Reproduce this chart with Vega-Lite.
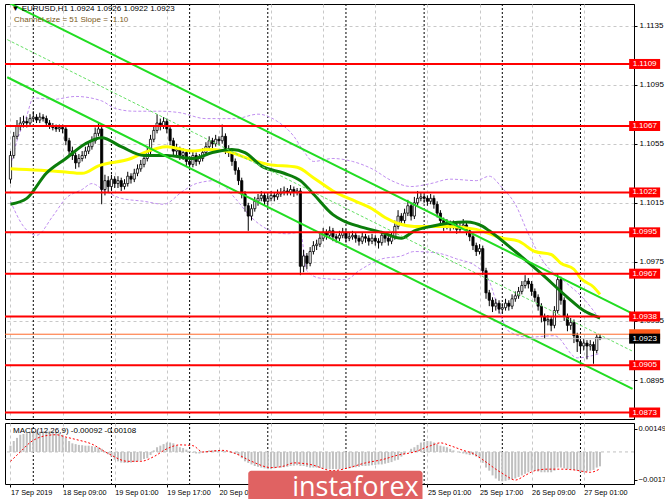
{
"$schema": "https://vega.github.io/schema/vega-lite/v6.json",
"padding": {"left": 3, "top": 3, "right": 0, "bottom": 0},
"background": "#ffffff",
"spacing": 2,
"config": {
  "view": {"stroke": "#000000", "strokeWidth": 1},
  "axis": {"labelFont": "Liberation Sans", "labelFontSize": 8, "labelColor": "#000000", "tickColor": "#000000", "domainColor": "#000000", "zindex": 0, "title": null},
  "text": {"font": "Liberation Sans"}
},
"datasets": {
"bars": [
{"i":0,"o":1.1031,"h":1.1050,"l":1.1028,"c":1.1047,"m":0.0004},
{"i":1,"o":1.1047,"h":1.1063,"l":1.1045,"c":1.1060,"m":0.0007},
{"i":2,"o":1.1060,"h":1.1071,"l":1.1058,"c":1.1067,"m":0.0009},
{"i":3,"o":1.1067,"h":1.1073,"l":1.1064,"c":1.1069,"m":0.0011},
{"i":4,"o":1.1069,"h":1.1074,"l":1.1066,"c":1.1070,"m":0.00115},
{"i":5,"o":1.1070,"h":1.1073,"l":1.1066,"c":1.1069,"m":0.0012},
{"i":6,"o":1.1069,"h":1.1075,"l":1.1067,"c":1.1072,"m":0.00125},
{"i":7,"o":1.1072,"h":1.1077,"l":1.1070,"c":1.1073,"m":0.0013},
{"i":8,"o":1.1073,"h":1.1075,"l":1.1069,"c":1.1071,"m":0.0013},
{"i":9,"o":1.1071,"h":1.1076,"l":1.1069,"c":1.1073,"m":0.0013},
{"i":10,"o":1.1073,"h":1.1075,"l":1.1070,"c":1.1072,"m":0.00132},
{"i":11,"o":1.1072,"h":1.1074,"l":1.1067,"c":1.1069,"m":0.00135},
{"i":12,"o":1.1069,"h":1.1071,"l":1.1065,"c":1.1067,"m":0.00135},
{"i":13,"o":1.1067,"h":1.1069,"l":1.1064,"c":1.1066,"m":0.00133},
{"i":14,"o":1.1066,"h":1.1068,"l":1.1063,"c":1.1065,"m":0.0013},
{"i":15,"o":1.1065,"h":1.1068,"l":1.1063,"c":1.1066,"m":0.0012},
{"i":16,"o":1.1066,"h":1.1068,"l":1.1062,"c":1.1065,"m":0.0011},
{"i":17,"o":1.1065,"h":1.1067,"l":1.1054,"c":1.1057,"m":0.0009},
{"i":18,"o":1.1057,"h":1.1059,"l":1.1047,"c":1.1050,"m":0.0007},
{"i":19,"o":1.1050,"h":1.1053,"l":1.1044,"c":1.1047,"m":0.00055},
{"i":20,"o":1.1047,"h":1.1049,"l":1.1038,"c":1.1042,"m":0.0005},
{"i":21,"o":1.1042,"h":1.1048,"l":1.1039,"c":1.1045,"m":0.00045},
{"i":22,"o":1.1045,"h":1.1050,"l":1.1043,"c":1.1047,"m":0.00043},
{"i":23,"o":1.1047,"h":1.1053,"l":1.1045,"c":1.1050,"m":0.0004},
{"i":24,"o":1.1050,"h":1.1056,"l":1.1048,"c":1.1053,"m":0.0004},
{"i":25,"o":1.1053,"h":1.1060,"l":1.1051,"c":1.1057,"m":0.00037},
{"i":26,"o":1.1057,"h":1.1066,"l":1.1055,"c":1.1062,"m":0.00033},
{"i":27,"o":1.1062,"h":1.1069,"l":1.1060,"c":1.1065,"m":0.0003},
{"i":28,"o":1.1065,"h":1.1068,"l":1.1014,"c":1.1024,"m":0.0002},
{"i":29,"o":1.1024,"h":1.1034,"l":1.1020,"c":1.1030,"m":0.00005},
{"i":30,"o":1.1030,"h":1.1033,"l":1.1022,"c":1.1026,"m":-0.00015},
{"i":31,"o":1.1026,"h":1.1034,"l":1.1023,"c":1.1031,"m":-0.0003},
{"i":32,"o":1.1031,"h":1.1033,"l":1.1025,"c":1.1028,"m":-0.0005},
{"i":33,"o":1.1028,"h":1.1033,"l":1.1025,"c":1.1030,"m":-0.0006},
{"i":34,"o":1.1030,"h":1.1032,"l":1.1023,"c":1.1026,"m":-0.00068},
{"i":35,"o":1.1026,"h":1.1031,"l":1.1024,"c":1.1028,"m":-0.0007},
{"i":36,"o":1.1028,"h":1.1036,"l":1.1026,"c":1.1033,"m":-0.0007},
{"i":37,"o":1.1033,"h":1.1035,"l":1.1028,"c":1.1031,"m":-0.00068},
{"i":38,"o":1.1031,"h":1.1038,"l":1.1029,"c":1.1035,"m":-0.00065},
{"i":39,"o":1.1035,"h":1.1041,"l":1.1033,"c":1.1038,"m":-0.0006},
{"i":40,"o":1.1038,"h":1.1044,"l":1.1036,"c":1.1041,"m":-0.00055},
{"i":41,"o":1.1041,"h":1.1048,"l":1.1039,"c":1.1045,"m":-0.00045},
{"i":42,"o":1.1045,"h":1.1053,"l":1.1043,"c":1.1050,"m":-0.0004},
{"i":43,"o":1.1050,"h":1.1061,"l":1.1048,"c":1.1058,"m":-0.0002},
{"i":44,"o":1.1058,"h":1.1067,"l":1.1056,"c":1.1064,"m":0.0001},
{"i":45,"o":1.1064,"h":1.1075,"l":1.1062,"c":1.1069,"m":0.0003},
{"i":46,"o":1.1069,"h":1.1072,"l":1.1064,"c":1.1067,"m":0.0004},
{"i":47,"o":1.1067,"h":1.1073,"l":1.1065,"c":1.1070,"m":0.0005},
{"i":48,"o":1.1070,"h":1.1072,"l":1.1062,"c":1.1065,"m":0.0006},
{"i":49,"o":1.1065,"h":1.1067,"l":1.1054,"c":1.1057,"m":0.0006},
{"i":50,"o":1.1057,"h":1.1059,"l":1.1047,"c":1.1050,"m":0.00055},
{"i":51,"o":1.1050,"h":1.1055,"l":1.1047,"c":1.1051,"m":0.0004},
{"i":52,"o":1.1051,"h":1.1053,"l":1.1044,"c":1.1047,"m":0.0003},
{"i":53,"o":1.1047,"h":1.1052,"l":1.1044,"c":1.1049,"m":0.00025},
{"i":54,"o":1.1049,"h":1.1051,"l":1.1040,"c":1.1043,"m":0.00015},
{"i":55,"o":1.1043,"h":1.1046,"l":1.1037,"c":1.1041,"m":0.00005},
{"i":56,"o":1.1041,"h":1.1050,"l":1.1039,"c":1.1047,"m":-0.00005},
{"i":57,"o":1.1047,"h":1.1049,"l":1.1040,"c":1.1043,"m":-0.0001},
{"i":58,"o":1.1043,"h":1.1048,"l":1.1041,"c":1.1045,"m":-0.0001},
{"i":59,"o":1.1045,"h":1.1052,"l":1.1043,"c":1.1049,"m":-0.00005},
{"i":60,"o":1.1049,"h":1.1056,"l":1.1047,"c":1.1053,"m":0.00005},
{"i":61,"o":1.1053,"h":1.1060,"l":1.1051,"c":1.1057,"m":0.0001},
{"i":62,"o":1.1057,"h":1.1059,"l":1.1052,"c":1.1055,"m":0.0001},
{"i":63,"o":1.1055,"h":1.1061,"l":1.1053,"c":1.1058,"m":0.00012},
{"i":64,"o":1.1058,"h":1.1060,"l":1.1054,"c":1.1057,"m":0.0001},
{"i":65,"o":1.1057,"h":1.1068,"l":1.1055,"c":1.1060,"m":0.00008},
{"i":66,"o":1.1060,"h":1.1062,"l":1.1048,"c":1.1051,"m":0.00005},
{"i":67,"o":1.1051,"h":1.1054,"l":1.1046,"c":1.1049,"m":0.0},
{"i":68,"o":1.1049,"h":1.1051,"l":1.1040,"c":1.1043,"m":-0.00005},
{"i":69,"o":1.1043,"h":1.1045,"l":1.1034,"c":1.1037,"m":-0.0001},
{"i":70,"o":1.1037,"h":1.1039,"l":1.1027,"c":1.1030,"m":-0.0002},
{"i":71,"o":1.1030,"h":1.1032,"l":1.1018,"c":1.1021,"m":-0.0004},
{"i":72,"o":1.1021,"h":1.1023,"l":1.1009,"c":1.1013,"m":-0.0006},
{"i":73,"o":1.1013,"h":1.1015,"l":1.0996,"c":1.1006,"m":-0.0007},
{"i":74,"o":1.1006,"h":1.1014,"l":1.1003,"c":1.1011,"m":-0.0008},
{"i":75,"o":1.1011,"h":1.1019,"l":1.1009,"c":1.1016,"m":-0.0009},
{"i":76,"o":1.1016,"h":1.1021,"l":1.1013,"c":1.1018,"m":-0.00095},
{"i":77,"o":1.1018,"h":1.1023,"l":1.1016,"c":1.1020,"m":-0.001},
{"i":78,"o":1.1020,"h":1.1022,"l":1.1013,"c":1.1016,"m":-0.00105},
{"i":79,"o":1.1016,"h":1.1021,"l":1.1014,"c":1.1018,"m":-0.0011},
{"i":80,"o":1.1018,"h":1.1023,"l":1.1016,"c":1.1020,"m":-0.0011},
{"i":81,"o":1.1020,"h":1.1022,"l":1.1016,"c":1.1019,"m":-0.00105},
{"i":82,"o":1.1019,"h":1.1024,"l":1.1017,"c":1.1021,"m":-0.001},
{"i":83,"o":1.1021,"h":1.1025,"l":1.1019,"c":1.1022,"m":-0.001},
{"i":84,"o":1.1022,"h":1.1026,"l":1.1020,"c":1.1023,"m":-0.00098},
{"i":85,"o":1.1023,"h":1.1025,"l":1.1020,"c":1.1022,"m":-0.00095},
{"i":86,"o":1.1022,"h":1.1027,"l":1.1020,"c":1.1024,"m":-0.0009},
{"i":87,"o":1.1024,"h":1.1026,"l":1.1019,"c":1.1022,"m":-0.00088},
{"i":88,"o":1.1022,"h":1.1025,"l":1.1020,"c":1.1023,"m":-0.00085},
{"i":89,"o":1.1023,"h":1.1025,"l":1.0966,"c":1.0972,"m":-0.0009},
{"i":90,"o":1.0972,"h":1.0983,"l":1.0968,"c":1.0979,"m":-0.0009},
{"i":91,"o":1.0979,"h":1.0981,"l":1.0970,"c":1.0974,"m":-0.00095},
{"i":92,"o":1.0974,"h":1.0985,"l":1.0972,"c":1.0982,"m":-0.001},
{"i":93,"o":1.0982,"h":1.0989,"l":1.0980,"c":1.0986,"m":-0.001},
{"i":94,"o":1.0986,"h":1.0990,"l":1.0983,"c":1.0987,"m":-0.001},
{"i":95,"o":1.0987,"h":1.0994,"l":1.0985,"c":1.0991,"m":-0.00102},
{"i":96,"o":1.0991,"h":1.0998,"l":1.0989,"c":1.0995,"m":-0.00105},
{"i":97,"o":1.0995,"h":1.0997,"l":1.0990,"c":1.0993,"m":-0.0011},
{"i":98,"o":1.0993,"h":1.0999,"l":1.0991,"c":1.0996,"m":-0.0011},
{"i":99,"o":1.0996,"h":1.0998,"l":1.0989,"c":1.0992,"m":-0.0011},
{"i":100,"o":1.0992,"h":1.0994,"l":1.0988,"c":1.0991,"m":-0.0011},
{"i":101,"o":1.0991,"h":1.0996,"l":1.0989,"c":1.0993,"m":-0.0011},
{"i":102,"o":1.0993,"h":1.0998,"l":1.0991,"c":1.0995,"m":-0.0011},
{"i":103,"o":1.0995,"h":1.0997,"l":1.0988,"c":1.0991,"m":-0.00108},
{"i":104,"o":1.0991,"h":1.0995,"l":1.0989,"c":1.0992,"m":-0.00105},
{"i":105,"o":1.0992,"h":1.0996,"l":1.0990,"c":1.0993,"m":-0.001},
{"i":106,"o":1.0993,"h":1.0995,"l":1.0988,"c":1.0991,"m":-0.00098},
{"i":107,"o":1.0991,"h":1.0993,"l":1.0986,"c":1.0989,"m":-0.00095},
{"i":108,"o":1.0989,"h":1.0995,"l":1.0987,"c":1.0992,"m":-0.0009},
{"i":109,"o":1.0992,"h":1.0994,"l":1.0988,"c":1.0991,"m":-0.0009},
{"i":110,"o":1.0991,"h":1.0993,"l":1.0986,"c":1.0989,"m":-0.00088},
{"i":111,"o":1.0989,"h":1.0994,"l":1.0987,"c":1.0991,"m":-0.00085},
{"i":112,"o":1.0991,"h":1.0993,"l":1.0986,"c":1.0989,"m":-0.00083},
{"i":113,"o":1.0989,"h":1.0991,"l":1.0984,"c":1.0988,"m":-0.0008},
{"i":114,"o":1.0988,"h":1.0996,"l":1.0986,"c":1.0993,"m":-0.0008},
{"i":115,"o":1.0993,"h":1.0995,"l":1.0988,"c":1.0991,"m":-0.00075},
{"i":116,"o":1.0991,"h":1.0993,"l":1.0986,"c":1.0989,"m":-0.0007},
{"i":117,"o":1.0989,"h":1.0995,"l":1.0987,"c":1.0992,"m":-0.00065},
{"i":118,"o":1.0992,"h":1.1003,"l":1.0990,"c":1.0999,"m":-0.00055},
{"i":119,"o":1.0999,"h":1.1010,"l":1.0997,"c":1.1006,"m":-0.0005},
{"i":120,"o":1.1006,"h":1.1008,"l":1.1000,"c":1.1003,"m":-0.0003},
{"i":121,"o":1.1003,"h":1.1011,"l":1.1001,"c":1.1008,"m":-0.00015},
{"i":122,"o":1.1008,"h":1.1017,"l":1.1006,"c":1.1013,"m":0.0},
{"i":123,"o":1.1013,"h":1.1015,"l":1.1003,"c":1.1006,"m":0.0002},
{"i":124,"o":1.1006,"h":1.1019,"l":1.1004,"c":1.1015,"m":0.0003},
{"i":125,"o":1.1015,"h":1.1023,"l":1.1013,"c":1.1018,"m":0.00045},
{"i":126,"o":1.1018,"h":1.1022,"l":1.1016,"c":1.1019,"m":0.0006},
{"i":127,"o":1.1019,"h":1.1021,"l":1.1015,"c":1.1018,"m":0.00065},
{"i":128,"o":1.1018,"h":1.1020,"l":1.1013,"c":1.1016,"m":0.0007},
{"i":129,"o":1.1016,"h":1.1021,"l":1.1014,"c":1.1018,"m":0.00068},
{"i":130,"o":1.1018,"h":1.1020,"l":1.1011,"c":1.1014,"m":0.0006},
{"i":131,"o":1.1014,"h":1.1016,"l":1.1005,"c":1.1008,"m":0.0005},
{"i":132,"o":1.1008,"h":1.1010,"l":1.1000,"c":1.1003,"m":0.0004},
{"i":133,"o":1.1003,"h":1.1005,"l":1.0996,"c":1.0999,"m":0.00035},
{"i":134,"o":1.0999,"h":1.1004,"l":1.0997,"c":1.1001,"m":0.0003},
{"i":135,"o":1.1001,"h":1.1003,"l":1.0996,"c":1.0999,"m":0.0002},
{"i":136,"o":1.0999,"h":1.1003,"l":1.0997,"c":1.1000,"m":0.0001},
{"i":137,"o":1.1000,"h":1.1002,"l":1.0994,"c":1.0997,"m":0.0},
{"i":138,"o":1.0997,"h":1.1002,"l":1.0995,"c":1.0999,"m":-0.00005},
{"i":139,"o":1.0999,"h":1.1004,"l":1.0997,"c":1.1000,"m":-0.0001},
{"i":140,"o":1.1000,"h":1.1002,"l":1.0993,"c":1.0996,"m":-0.00015},
{"i":141,"o":1.0996,"h":1.0998,"l":1.0989,"c":1.0992,"m":-0.0002},
{"i":142,"o":1.0992,"h":1.0994,"l":1.0983,"c":1.0986,"m":-0.0002},
{"i":143,"o":1.0986,"h":1.0988,"l":1.0979,"c":1.0982,"m":-0.0003},
{"i":144,"o":1.0982,"h":1.0987,"l":1.0980,"c":1.0984,"m":-0.0004},
{"i":145,"o":1.0984,"h":1.0986,"l":1.0966,"c":1.0969,"m":-0.0007},
{"i":146,"o":1.0969,"h":1.0971,"l":1.0950,"c":1.0954,"m":-0.001},
{"i":147,"o":1.0954,"h":1.0956,"l":1.0945,"c":1.0949,"m":-0.0012},
{"i":148,"o":1.0949,"h":1.0951,"l":1.0941,"c":1.0945,"m":-0.0015},
{"i":149,"o":1.0945,"h":1.0950,"l":1.0942,"c":1.0947,"m":-0.0017},
{"i":150,"o":1.0947,"h":1.0949,"l":1.0940,"c":1.0943,"m":-0.00185},
{"i":151,"o":1.0943,"h":1.0947,"l":1.0940,"c":1.0944,"m":-0.00188},
{"i":152,"o":1.0944,"h":1.0950,"l":1.0942,"c":1.0947,"m":-0.00185},
{"i":153,"o":1.0947,"h":1.0949,"l":1.0942,"c":1.0945,"m":-0.0018},
{"i":154,"o":1.0945,"h":1.0953,"l":1.0943,"c":1.0950,"m":-0.00175},
{"i":155,"o":1.0950,"h":1.0955,"l":1.0948,"c":1.0952,"m":-0.0017},
{"i":156,"o":1.0952,"h":1.0958,"l":1.0950,"c":1.0955,"m":-0.0016},
{"i":157,"o":1.0955,"h":1.0962,"l":1.0953,"c":1.0959,"m":-0.0015},
{"i":158,"o":1.0959,"h":1.0966,"l":1.0957,"c":1.0962,"m":-0.0014},
{"i":159,"o":1.0962,"h":1.0964,"l":1.0957,"c":1.0960,"m":-0.0013},
{"i":160,"o":1.0960,"h":1.0962,"l":1.0952,"c":1.0955,"m":-0.0012},
{"i":161,"o":1.0955,"h":1.0957,"l":1.0948,"c":1.0951,"m":-0.0012},
{"i":162,"o":1.0951,"h":1.0953,"l":1.0942,"c":1.0945,"m":-0.00125},
{"i":163,"o":1.0945,"h":1.0947,"l":1.0934,"c":1.0938,"m":-0.0013},
{"i":164,"o":1.0938,"h":1.0940,"l":1.0923,"c":1.0935,"m":-0.0013},
{"i":165,"o":1.0935,"h":1.0939,"l":1.0932,"c":1.0936,"m":-0.0013},
{"i":166,"o":1.0936,"h":1.0938,"l":1.0928,"c":1.0932,"m":-0.0013},
{"i":167,"o":1.0932,"h":1.0945,"l":1.0930,"c":1.0942,"m":-0.0012},
{"i":168,"o":1.0942,"h":1.0967,"l":1.0940,"c":1.0963,"m":-0.001},
{"i":169,"o":1.0963,"h":1.0965,"l":1.0946,"c":1.0949,"m":-0.001},
{"i":170,"o":1.0949,"h":1.0951,"l":1.0935,"c":1.0938,"m":-0.00105},
{"i":171,"o":1.0938,"h":1.0940,"l":1.0928,"c":1.0932,"m":-0.0011},
{"i":172,"o":1.0932,"h":1.0937,"l":1.0929,"c":1.0934,"m":-0.0011},
{"i":173,"o":1.0934,"h":1.0936,"l":1.0920,"c":1.0925,"m":-0.00115},
{"i":174,"o":1.0925,"h":1.0927,"l":1.0914,"c":1.0921,"m":-0.0012},
{"i":175,"o":1.0921,"h":1.0923,"l":1.0914,"c":1.0918,"m":-0.0013},
{"i":176,"o":1.0918,"h":1.0923,"l":1.0915,"c":1.0920,"m":-0.0013},
{"i":177,"o":1.0920,"h":1.0922,"l":1.0909,"c":1.0918,"m":-0.00125},
{"i":178,"o":1.0918,"h":1.0922,"l":1.0915,"c":1.0919,"m":-0.0012},
{"i":179,"o":1.0919,"h":1.0921,"l":1.0906,"c":1.0915,"m":-0.00115},
{"i":180,"o":1.0915,"h":1.0926,"l":1.0913,"c":1.0924,"m":-0.001},
{"i":181,"o":1.0924,"h":1.0926,"l":1.0922,"c":1.0923,"m":-0.00092}
],
"yma": [
{"i":0,"v":1.1038},{"i":16,"v":1.1036},{"i":22,"v":1.1035},{"i":27,"v":1.1040},{"i":37,"v":1.1045},{"i":41,"v":1.1049},{"i":48,"v":1.1053},{"i":56,"v":1.1050},{"i":60,"v":1.1051},{"i":66,"v":1.1050},{"i":73,"v":1.1045},{"i":79,"v":1.1041},{"i":88,"v":1.1039},{"i":93,"v":1.1032},{"i":99,"v":1.1023},{"i":106,"v":1.1016},{"i":111,"v":1.1011},{"i":115,"v":1.1005},{"i":119,"v":1.1001},{"i":124,"v":1.0999},{"i":134,"v":1.0999},{"i":143,"v":1.0997},{"i":151,"v":1.0991},{"i":156,"v":1.0989},{"i":161,"v":1.0982},{"i":166,"v":1.0980},{"i":169,"v":1.0974},{"i":173,"v":1.0970},{"i":175,"v":1.0964},{"i":179,"v":1.0958},{"i":181,"v":1.0953}
],
"gma": [
{"i":0,"v":1.1014},{"i":5,"v":1.1018},{"i":11,"v":1.1035},{"i":17,"v":1.1045},{"i":23,"v":1.1055},{"i":28,"v":1.1059},{"i":34,"v":1.1053},{"i":41,"v":1.1047},{"i":48,"v":1.1047},{"i":56,"v":1.1045},{"i":62,"v":1.1049},{"i":68,"v":1.1051},{"i":72,"v":1.1049},{"i":77,"v":1.1040},{"i":84,"v":1.1035},{"i":89,"v":1.1030},{"i":93,"v":1.1021},{"i":99,"v":1.1007},{"i":102,"v":1.1003},{"i":107,"v":1.0999},{"i":114,"v":1.0995},{"i":120,"v":1.0991},{"i":124,"v":1.0996},{"i":129,"v":1.0999},{"i":140,"v":1.1002},{"i":145,"v":1.0999},{"i":147,"v":1.0996},{"i":155,"v":1.0982},{"i":163,"v":1.0967},{"i":171,"v":1.0951},{"i":176,"v":1.0942},{"i":181,"v":1.0937}
],
"bbu": [
{"i":0,"v":1.1040},{"i":2,"v":1.1057},{"i":5,"v":1.1074},{"i":7,"v":1.1086},{"i":13,"v":1.1085},{"i":20,"v":1.1087},{"i":28,"v":1.1084},{"i":32,"v":1.1079},{"i":38,"v":1.1077},{"i":46,"v":1.1077},{"i":52,"v":1.1076},{"i":60,"v":1.1072},{"i":69,"v":1.1072},{"i":76,"v":1.1075},{"i":82,"v":1.1070},{"i":87,"v":1.1060},{"i":90,"v":1.1050},{"i":93,"v":1.1043},{"i":99,"v":1.1045},{"i":105,"v":1.1043},{"i":111,"v":1.1038},{"i":117,"v":1.1030},{"i":123,"v":1.1026},{"i":129,"v":1.1028},{"i":135,"v":1.1031},{"i":143,"v":1.1030},{"i":147,"v":1.1033},{"i":151,"v":1.1025},{"i":155,"v":1.1014},{"i":159,"v":1.0994},{"i":164,"v":1.0974},{"i":170,"v":1.0962},{"i":176,"v":1.0950},{"i":181,"v":1.0936}
],
"bbl": [
{"i":0,"v":1.1016},{"i":4,"v":1.0999},{"i":8,"v":1.0993},{"i":13,"v":1.1006},{"i":17,"v":1.1018},{"i":22,"v":1.1024},{"i":25,"v":1.1028},{"i":29,"v":1.1023},{"i":34,"v":1.1018},{"i":41,"v":1.1016},{"i":47,"v":1.1014},{"i":53,"v":1.1023},{"i":57,"v":1.1028},{"i":63,"v":1.1030},{"i":69,"v":1.1018},{"i":74,"v":1.1005},{"i":80,"v":1.0996},{"i":85,"v":1.0994},{"i":89,"v":1.0995},{"i":91,"v":1.0969},{"i":95,"v":1.0964},{"i":103,"v":1.0963},{"i":107,"v":1.0969},{"i":114,"v":1.0977},{"i":120,"v":1.0979},{"i":124,"v":1.0982},{"i":131,"v":1.0981},{"i":137,"v":1.0977},{"i":143,"v":1.0972},{"i":147,"v":1.0962},{"i":150,"v":1.0942},{"i":153,"v":1.0928},{"i":159,"v":1.0924},{"i":167,"v":1.0925},{"i":174,"v":1.0910},{"i":181,"v":1.0913}
],
"sig": [
{"i":0,"s":-0.0006},{"i":3,"s":0.0},{"i":6,"s":0.0006},{"i":10,"s":0.001},{"i":14,"s":0.0011},{"i":17,"s":0.00095},{"i":20,"s":0.0008},{"i":25,"s":0.0005},{"i":30,"s":-0.0001},{"i":36,"s":-0.0006},{"i":40,"s":-0.0006},{"i":44,"s":-0.0003},{"i":48,"s":0.0002},{"i":52,"s":0.00045},{"i":56,"s":0.0004},{"i":59,"s":0.0},{"i":65,"s":0.0001},{"i":69,"s":-0.0001},{"i":74,"s":-0.0006},{"i":80,"s":-0.001},{"i":84,"s":-0.0009},{"i":87,"s":-0.0007},{"i":92,"s":-0.0008},{"i":99,"s":-0.0012},{"i":104,"s":-0.001},{"i":109,"s":-0.0007},{"i":114,"s":-0.0005},{"i":119,"s":-0.0002},{"i":124,"s":0.0},{"i":129,"s":0.0004},{"i":132,"s":0.00058},{"i":135,"s":0.0004},{"i":139,"s":0.0001},{"i":142,"s":-0.0001},{"i":145,"s":-0.0005},{"i":149,"s":-0.0011},{"i":152,"s":-0.0015},{"i":155,"s":-0.0018},{"i":158,"s":-0.0015},{"i":161,"s":-0.0012},{"i":165,"s":-0.0011},{"i":169,"s":-0.0011},{"i":173,"s":-0.00115},{"i":178,"s":-0.0013},{"i":181,"s":-0.00108}
],
"lv": [{"p":1.1109},{"p":1.1067},{"p":1.1022},{"p":1.0995},{"p":1.0967},{"p":1.0938},{"p":1.0905},{"p":1.0873}],
"px": [{"k":"ask","p":1.0926},{"k":"bid","p":1.0923}],
"chan": [{"i":-1,"lo":1.1100,"mid":1.11255,"up":1.1151},{"i":191,"lo":1.0889,"mid":1.09145,"up":1.0940}],
"sep": [{"i":7},{"i":31},{"i":55},{"i":79},{"i":103},{"i":127},{"i":151},{"i":175}]
},
"vconcat": [
{
"width": 629, "height": 415,
"layer": [
{"data":{"name":"sep"},"mark":{"type":"rule","color":"#000000","strokeDash":[2,2],"strokeWidth":1},
 "encoding":{"x":{"field":"i","type":"quantitative","title":null,"scale":{"domain":[-0.15,189.9],"nice":false,"zero":false},
  "axis":{"values":[0,8,16,24,32,40,48,56,64,72,80,88,96,104,112,120,128,136,144,152,160,168,176,184],"labels":false,"ticks":false,"domain":false,"grid":true,"gridColor":"#c8c8c8","gridDash":[3,3]}}}},
{"data":{"name":"bbu"},"mark":{"type":"line","color":"#c08ef0","strokeWidth":1,"strokeDash":[3,2],"interpolate":"monotone","clip":true},
 "encoding":{"x":{"field":"i","type":"quantitative","title":null},"y":{"field":"v","type":"quantitative","title":null,"scale":{"domain":[1.08686,1.11496],"nice":false,"zero":false},
  "axis":{"orient":"right","values":[1.1135,1.1115,1.1095,1.1075,1.1055,1.1035,1.1015,1.0995,1.0975,1.0955,1.0935,1.0915,1.0895],"format":".4f","grid":true,"gridColor":"#c8c8c8","gridDash":[3,3],"tickSize":3,"labelPadding":2}}}},
{"data":{"name":"bbl"},"mark":{"type":"line","color":"#c08ef0","strokeWidth":1,"strokeDash":[3,2],"interpolate":"monotone","clip":true},
 "encoding":{"x":{"field":"i","type":"quantitative","title":null},"y":{"field":"v","type":"quantitative","title":null}}},
{"data":{"name":"bars"},"mark":{"type":"rule","color":"#000000","strokeWidth":1},
 "encoding":{"x":{"field":"i","type":"quantitative","title":null},"y":{"field":"l","type":"quantitative","title":null},"y2":{"field":"h"}}},
{"data":{"name":"bars"},"mark":{"type":"bar","width":2.2,"stroke":"#000000","strokeWidth":0.8},
 "encoding":{"x":{"field":"i","type":"quantitative","title":null},"y":{"field":"o","type":"quantitative","title":null},"y2":{"field":"c"},
  "fill":{"condition":{"test":"datum.c < datum.o","value":"#000000"},"value":"#ffffff"}}},
{"data":{"name":"yma"},"mark":{"type":"line","color":"#ffff00","strokeWidth":3,"interpolate":"monotone","clip":true},
 "encoding":{"x":{"field":"i","type":"quantitative","title":null},"y":{"field":"v","type":"quantitative","title":null}}},
{"data":{"name":"gma"},"mark":{"type":"line","color":"#0b7d0b","strokeWidth":3,"interpolate":"monotone","clip":true},
 "encoding":{"x":{"field":"i","type":"quantitative","title":null},"y":{"field":"v","type":"quantitative","title":null}}},
{"data":{"name":"chan"},"mark":{"type":"line","color":"#22dd22","strokeWidth":2,"clip":true},
 "encoding":{"x":{"field":"i","type":"quantitative","title":null},"y":{"field":"up","type":"quantitative","title":null}}},
{"data":{"name":"chan"},"mark":{"type":"line","color":"#66e066","strokeWidth":1,"strokeDash":[3,2],"clip":true},
 "encoding":{"x":{"field":"i","type":"quantitative","title":null},"y":{"field":"mid","type":"quantitative","title":null}}},
{"data":{"name":"chan"},"mark":{"type":"line","color":"#22dd22","strokeWidth":2,"clip":true},
 "encoding":{"x":{"field":"i","type":"quantitative","title":null},"y":{"field":"lo","type":"quantitative","title":null}}},
{"data":{"name":"lv"},"mark":{"type":"rule","color":"#ff0000","strokeWidth":2},
 "encoding":{"y":{"field":"p","type":"quantitative","title":null}}},
{"data":{"name":"px"},"mark":{"type":"rule","strokeWidth":1},
 "encoding":{"y":{"field":"p","type":"quantitative","title":null},"color":{"condition":{"test":"datum.k == 'ask'","value":"#ff6a2a"},"value":"#c0c0c0"}}},
{"data":{"name":"lv"},"mark":{"type":"tick","orient":"horizontal","color":"#ff0000","size":31,"thickness":10,"opacity":1,"clip":false},
 "encoding":{"x":{"datum":194.7,"type":"quantitative"},"y":{"field":"p","type":"quantitative","title":null}}},
{"data":{"name":"px"},"mark":{"type":"tick","orient":"horizontal","size":31,"thickness":10,"opacity":1,"clip":false},
 "encoding":{"x":{"datum":194.7,"type":"quantitative"},"y":{"field":"p","type":"quantitative","title":null},"color":{"condition":{"test":"datum.k == 'ask'","value":"#ff5a1a"},"value":"#000000"}}},
{"data":{"name":"lv"},"mark":{"type":"text","color":"#ffffff","fontSize":8,"align":"center","baseline":"middle","clip":false},
 "encoding":{"x":{"datum":194.7,"type":"quantitative"},"y":{"field":"p","type":"quantitative","title":null},"text":{"field":"p","type":"quantitative","format":".4f"}}},
{"data":{"name":"px"},"transform":[{"filter":"datum.k == 'bid'"}],"mark":{"type":"text","color":"#ffffff","fontSize":8,"align":"center","baseline":"middle","clip":false},
 "encoding":{"x":{"datum":194.7,"type":"quantitative"},"y":{"field":"p","type":"quantitative","title":null},"text":{"field":"p","type":"quantitative","format":".4f"}}},
{"data":{"values":[{"s":"▼ EURUSD,H1  1.0924 1.0926 1.0922 1.0923"}]},"mark":{"type":"text","color":"#000000","fontSize":8,"align":"left","baseline":"middle","dx":1},
 "encoding":{"x":{"datum":0,"type":"quantitative"},"y":{"datum":1.1146,"type":"quantitative"},"text":{"field":"s"}}},
{"data":{"values":[{"s":"Channel size = 51 Slope = -1.10"}]},"mark":{"type":"text","color":"#7a5a1a","fontSize":8,"align":"left","baseline":"middle","dx":3.5},
 "encoding":{"x":{"datum":0,"type":"quantitative"},"y":{"datum":1.11385,"type":"quantitative"},"text":{"field":"s"}}}
]
},
{
"width": 629, "height": 61,
"layer": [
{"data":{"name":"sep"},"mark":{"type":"rule","color":"#000000","strokeDash":[2,2],"strokeWidth":1},
 "encoding":{"x":{"field":"i","type":"quantitative","title":null,"scale":{"domain":[-0.15,189.9],"nice":false,"zero":false},
  "axis":{"values":[0,8,16,24,32,40,48,56,64,72,80,88,96,104,112,120,128,136,144,152,160,168,176,184],"domain":false,"grid":true,"gridColor":"#c8c8c8","gridDash":[3,3],
   "tickSize":3,"tickOpacity":{"condition":{"test":"datum.value % 16 == 0","value":1},"value":0},
   "labelFontSize":7.3,"labelAlign":"left","labelBaseline":"top","labelPadding":1,"labelOverlap":false,"labelFlush":false,"labelBound":false,
   "labelExpr":"datum.value==0?'17 Sep 2019':datum.value==16?'18 Sep 09:00':datum.value==32?'19 Sep 01:00':datum.value==48?'19 Sep 17:00':datum.value==64?'20 Sep 09:00':datum.value==128?'25 Sep 01:00':datum.value==144?'25 Sep 17:00':datum.value==160?'26 Sep 09:00':datum.value==176?'27 Sep 01:00':''"}}}},
{"data":{"values":[{}]},"mark":{"type":"rule","color":"#c0c0c0","strokeDash":[3,3],"strokeWidth":1},
 "encoding":{"y":{"datum":0,"type":"quantitative"}}},
{"data":{"name":"bars"},"mark":{"type":"bar","width":2,"color":"#c0c0c0"},
 "encoding":{"x":{"field":"i","type":"quantitative","title":null},"y":{"field":"m","type":"quantitative","title":null,"scale":{"domain":[-0.00205,0.00185],"nice":false,"zero":false},
  "axis":{"orient":"right","values":[0.00149,0,-0.00177],"labelExpr":"datum.value==0?'0.00':format(datum.value,'.5f')","grid":false,"tickSize":3,"labelPadding":1,"labelFontSize":7.6}},"y2":{"datum":0}}},
{"data":{"name":"sig"},"mark":{"type":"line","color":"#ff0000","strokeWidth":1,"strokeDash":[2,2],"interpolate":"monotone"},
 "encoding":{"x":{"field":"i","type":"quantitative","title":null},"y":{"field":"s","type":"quantitative","title":null}}},
{"data":{"values":[{"s":"MACD(12,26,9) -0.00092 -0.00108"}]},"mark":{"type":"text","color":"#000000","fontSize":8,"align":"left","baseline":"middle","dx":2.5},
 "encoding":{"x":{"datum":0,"type":"quantitative"},"y":{"datum":0.00132,"type":"quantitative"},"text":{"field":"s"}}},
{"data":{"values":[{}]},"mark":{"type":"rect","color":"#e06262","cornerRadius":3,"clip":false},
 "encoding":{"x":{"datum":73,"type":"quantitative"},"x2":{"datum":126.5},"y":{"datum":-0.00121,"type":"quantitative"},"y2":{"datum":-0.0045}}},
{"data":{"values":[{"s":"instaforex"}]},"mark":{"type":"text","color":"#ffffff","font":"Open Sans","fontSize":27,"align":"left","baseline":"alphabetic","clip":false},
 "encoding":{"x":{"datum":86.5,"type":"quantitative"},"y":{"datum":-0.0028,"type":"quantitative"},"text":{"field":"s"}}}
]
}
]
}
